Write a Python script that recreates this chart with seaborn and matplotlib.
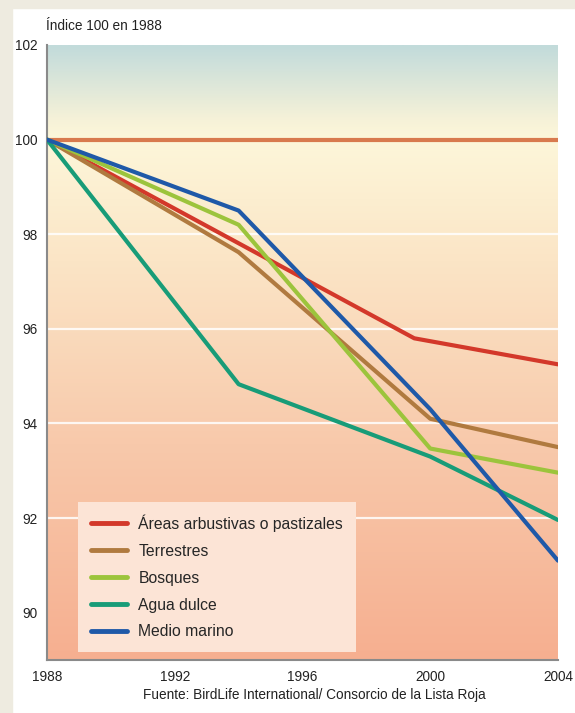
import numpy as np
import pandas as pd
import matplotlib
matplotlib.use("Agg")
import matplotlib.pyplot as plt
from matplotlib.colors import LinearSegmentedColormap
import seaborn as sns

# Bird population index by habitat (1988 = 100)
series_names = ["Áreas arbustivas o pastizales", "Terrestres", "Bosques",
                "Agua dulce", "Medio marino"]
years_arbustivas = [1988, 1999.5, 2004]
vals_arbustivas = [100, 95.8, 95.25]
years_terrestres = [1988, 1994, 2000, 2004]
vals_terrestres = [100, 97.62, 94.1, 93.5]
years_bosques = [1988, 1994, 2000, 2004]
vals_bosques = [100, 98.2, 93.47, 92.96]
years_agua = [1988, 1994, 2000, 2004]
vals_agua = [100, 94.83, 93.3, 91.96]
years_marino = [1988, 1994, 2000, 2004]
vals_marino = [100, 98.5, 94.3, 91.1]
colors = ["#d3382a", "#b07a3f", "#9cc43c", "#189c78", "#1f59a8"]

x_ticks = [1988, 1992, 1996, 2000, 2004]
y_ticks = [90, 92, 94, 96, 98, 100, 102]

frames = []
for name, ys, vs in zip(series_names,
                        [years_arbustivas, years_terrestres, years_bosques, years_agua, years_marino],
                        [vals_arbustivas, vals_terrestres, vals_bosques, vals_agua, vals_marino]):
    frames.append(pd.DataFrame({"year": ys, "value": vs, "serie": name}))
df = pd.concat(frames, ignore_index=True)

sns.set_style("white")
plt.rcParams["font.family"] = ["Liberation Sans", "DejaVu Sans"]

fig = plt.figure(figsize=(5.75, 7.13), dpi=100)
fig.patch.set_facecolor("white")
# beige frame on the left and top
fig.patches.append(plt.Rectangle((0, 0), 12 / 575, 1, transform=fig.transFigure,
                                 color="#eeebe0", zorder=0))
fig.patches.append(plt.Rectangle((0, 1 - 8 / 713), 1, 8 / 713, transform=fig.transFigure,
                                 color="#eeebe0", zorder=0))

ax = fig.add_axes([47 / 575, 53 / 713, 511 / 575, 615 / 713])
ax.set_xlim(1988, 2004)
ax.set_ylim(89, 102)

# vertical background gradient
cmap = LinearSegmentedColormap.from_list(
    "bg", [(0.0, "#f6af90"), (0.35, "#f8c9ab"), (0.65, "#fbe5c6"),
           (0.85, "#fdf7da"), (0.88, "#f6f2d8"), (1.0, "#c2dbdb")])
grad = np.linspace(0, 1, 256).reshape(-1, 1)
ax.imshow(grad, aspect="auto", cmap=cmap, origin="lower",
          extent=[1988, 2004, 89, 102], zorder=0)

for yv in [92, 94, 96, 98]:
    ax.axhline(yv, color="white", lw=1.6, alpha=0.85, zorder=1)
ax.axhline(100, color="#d87a4e", lw=3.0, zorder=2)

sns.lineplot(data=df, x="year", y="value", hue="serie", palette=colors,
             hue_order=series_names, linewidth=3.0, ax=ax, sort=False,
             estimator=None, zorder=3)

ax.set_xticks(x_ticks)
ax.set_yticks(y_ticks)
ax.set_xlabel("")
ax.set_ylabel("")
ax.tick_params(axis="both", labelsize=9.8, colors="#222222", length=3,
               width=1, direction="out", pad=4)
ax.tick_params(axis="both", color="#888888")
for side in ["top", "right"]:
    ax.spines[side].set_visible(False)
for side in ["left", "bottom"]:
    ax.spines[side].set_color("#8a8a8a")
    ax.spines[side].set_linewidth(1.5)

leg = ax.legend(loc="lower left", bbox_to_anchor=(31 / 511, 8 / 615),
                frameon=True, fontsize=11.3, handlelength=2.3, handletextpad=0.75,
                labelspacing=0.76, borderpad=0.8, borderaxespad=0)
frame = leg.get_frame()
frame.set_facecolor("#fce4d6")
frame.set_edgecolor("none")
frame.set_alpha(1)
frame.set_boxstyle("square", pad=0)
for line in leg.get_lines():
    line.set_linewidth(3.5)
leg.set_zorder(5)

fig.text(46 / 575, 1 - 26 / 713, "Índice 100 en 1988", fontsize=9.8, color="#222222",
         ha="left", va="center")
fig.text(314 / 575, 1 - 695 / 713, "Fuente: BirdLife International/ Consorcio de la Lista Roja",
         fontsize=9.8, color="#222222", ha="center", va="center")

fig.savefig("out.png", dpi=100)
